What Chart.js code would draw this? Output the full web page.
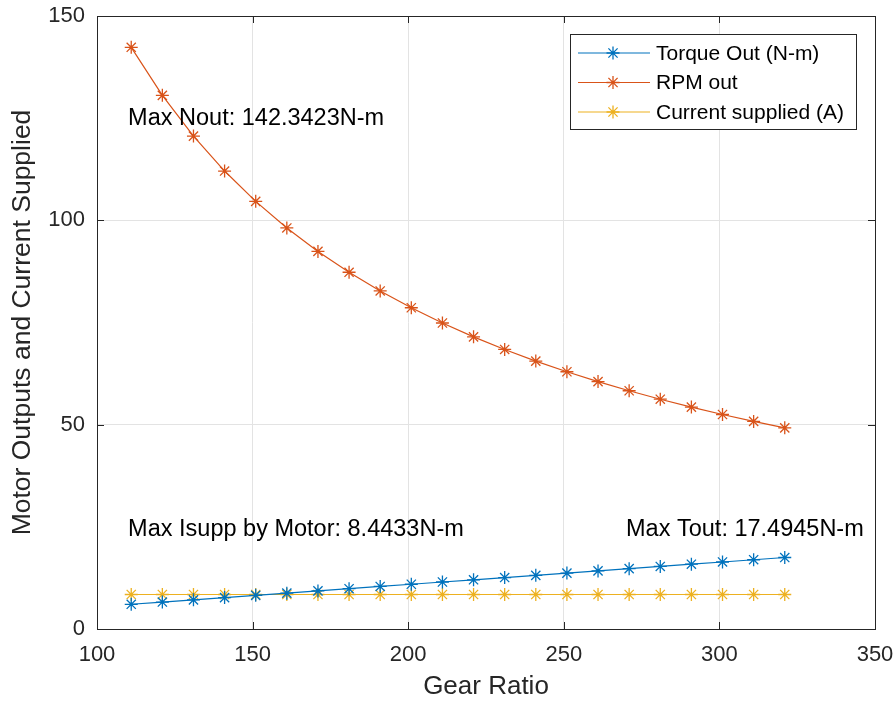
<!DOCTYPE html>
<html>
<head>
<meta charset="utf-8">
<script src="https://cdn.jsdelivr.net/npm/chart.js@4"></script>
<style>
  html, body { margin: 0; padding: 0; background: #fff; }
  #wrap { width: 896px; height: 702px; }
</style>
</head>
<body>
<div id="wrap"><canvas id="gearChart" width="896" height="702"></canvas></div>
<script>
// gear ratios (x)
const gearRatio = [111, 121, 131, 141, 151, 161, 171, 181, 191, 201, 211, 221, 231, 241, 251, 261, 271, 281, 291, 301, 311, 321];
// series
const torqueOut = [6.05, 6.59, 7.14, 7.68, 8.23, 8.77, 9.32, 9.86, 10.41, 10.95, 11.50, 12.04, 12.59, 13.13, 13.68, 14.22, 14.77, 15.31, 15.86, 16.40, 16.95, 17.49];
const rpmOut = [142.34, 130.58, 120.61, 112.06, 104.64, 98.14, 92.40, 87.29, 82.72, 78.61, 74.88, 71.49, 68.40, 65.56, 62.95, 60.54, 58.30, 56.23, 54.30, 52.49, 50.80, 49.22];
const currentSupplied = [8.44, 8.44, 8.44, 8.44, 8.44, 8.44, 8.44, 8.44, 8.44, 8.44, 8.44, 8.44, 8.44, 8.44, 8.44, 8.44, 8.44, 8.44, 8.44, 8.44, 8.44, 8.44];
const seriesNames = ['Torque Out (N-m)', 'RPM out', 'Current supplied (A)'];
const seriesColors = ['#0072BD', '#D95319', '#EDB120'];
const xTicks = [100, 150, 200, 250, 300, 350];
const yTicks = [0, 50, 100, 150];
const notes = [
  { x: 110, y: 124.8, text: 'Max Nout: 142.3423N-m' },
  { x: 110, y: 24.3, text: 'Max Isupp by Motor: 8.4433N-m' },
  { x: 270, y: 24.3, text: 'Max Tout: 17.4945N-m' }
];

const FONT = '"Liberation Sans", Arial, Helvetica, sans-serif';
const AX = '#262626';

function makeSet(i, vals) {
  return {
    label: seriesNames[i],
    data: gearRatio.map((g, k) => ({ x: g, y: vals[k] })),
    borderColor: seriesColors[i],
    backgroundColor: seriesColors[i],
    borderWidth: 1.2,
    pointStyle: 'star',
    pointRadius: 6.5,
    pointBorderWidth: 1.3,
    pointBorderColor: seriesColors[i],
    tension: 0
  };
}

// no extra room for tick labels, so the plot box sits where the padding says
function noScalePad(s) {
  s.paddingTop = 0; s.paddingBottom = 0; s.paddingLeft = 0; s.paddingRight = 0;
}

// box, inward ticks, notes and legend
const matlabLook = {
  id: 'matlabLook',
  afterDraw(chart) {
    const ctx = chart.ctx;
    const a = chart.chartArea;
    const xs = chart.scales.x, ys = chart.scales.y;
    ctx.save();
    ctx.strokeStyle = AX;
    ctx.lineWidth = 1;
    ctx.strokeRect(a.left + 0.5, a.top + 0.5, a.right - a.left, a.bottom - a.top);
    const tl = 7;
    ctx.beginPath();
    xTicks.forEach(v => {
      const px = Math.round(xs.getPixelForValue(v)) + 0.5;
      ctx.moveTo(px, a.bottom); ctx.lineTo(px, a.bottom - tl);
      ctx.moveTo(px, a.top); ctx.lineTo(px, a.top + tl);
    });
    yTicks.forEach(v => {
      const py = Math.round(ys.getPixelForValue(v)) + 0.5;
      ctx.moveTo(a.left, py); ctx.lineTo(a.left + tl, py);
      ctx.moveTo(a.right, py); ctx.lineTo(a.right - tl, py);
    });
    ctx.stroke();

    ctx.fillStyle = '#000';
    ctx.font = '23.5px ' + FONT;
    ctx.textAlign = 'left';
    ctx.textBaseline = 'middle';
    notes.forEach(n => {
      ctx.fillText(n.text, xs.getPixelForValue(n.x), ys.getPixelForValue(n.y));
    });

    // legend box
    const lx = 570.5, ly = 34.5, lw = 286, lh = 95;
    ctx.fillStyle = '#fff';
    ctx.fillRect(lx, ly, lw, lh);
    ctx.strokeStyle = AX;
    ctx.lineWidth = 1;
    ctx.strokeRect(lx, ly, lw, lh);
    ctx.font = '21px ' + FONT;
    chart.data.datasets.forEach((ds, i) => {
      const cy = 53 + i * 29.5;
      ctx.strokeStyle = ds.borderColor;
      ctx.fillStyle = ds.borderColor;
      ctx.lineWidth = 1.2;
      ctx.beginPath();
      ctx.moveTo(578, cy); ctx.lineTo(650, cy);
      ctx.stroke();
      ctx.lineWidth = 1.3;
      Chart.helpers.drawPoint(ctx, { pointStyle: 'star', radius: 6.5, rotation: 0, borderWidth: 1.3 }, 613, cy);
      ctx.fillStyle = '#000';
      ctx.fillText(ds.label, 656, cy + 1);
    });
    ctx.restore();
  }
};

new Chart(document.getElementById('gearChart'), {
  type: 'line',
  data: {
    datasets: [makeSet(0, torqueOut), makeSet(1, rpmOut), makeSet(2, currentSupplied)]
  },
  options: {
    responsive: false,
    animation: false,
    layout: { padding: { top: 16, right: 21, left: 0, bottom: 0 } },
    plugins: { legend: { display: false }, tooltip: { enabled: false } },
    scales: {
      x: {
        type: 'linear',
        min: 100, max: 350,
        afterBuildTicks: s => { s.ticks = xTicks.map(v => ({ value: v })); },
        afterFit: s => { s.height = 73; noScalePad(s); },
        grid: { color: '#e3e3e3', drawTicks: false },
        border: { display: false },
        ticks: { color: AX, padding: 13, maxRotation: 0, font: { family: FONT, size: 22 } },
        title: { display: true, text: 'Gear Ratio', color: AX, font: { family: FONT, size: 26 }, padding: { top: 0, bottom: 0 } }
      },
      y: {
        min: 0, max: 150,
        afterBuildTicks: s => { s.ticks = yTicks.map(v => ({ value: v })); },
        afterFit: s => { s.width = 97; noScalePad(s); },
        grid: { color: '#e3e3e3', drawTicks: false },
        border: { display: false },
        ticks: { color: AX, padding: 12, font: { family: FONT, size: 22 } },
        title: { display: true, text: 'Motor Outputs and Current Supplied', color: AX, font: { family: FONT, size: 26.5 }, padding: { top: 7, bottom: 0 } }
      }
    }
  },
  plugins: [matlabLook]
});
</script>
</body>
</html>
